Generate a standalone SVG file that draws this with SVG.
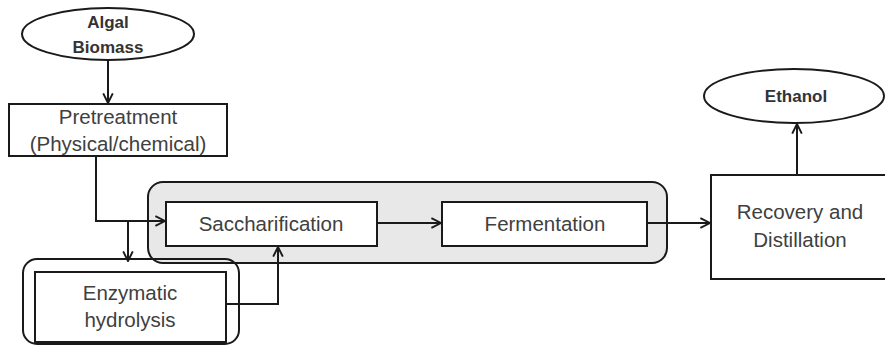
<svg xmlns="http://www.w3.org/2000/svg" width="885" height="345" viewBox="0 0 885 345">
  <style>
    .box { fill: #ffffff; stroke: #1a1a1a; stroke-width: 2; }
    .group { fill: #e8e8e8; stroke: #1a1a1a; stroke-width: 2; }
    .frame { fill: none; stroke: #1a1a1a; stroke-width: 2; }
    .oval { fill: #ffffff; stroke: #1a1a1a; stroke-width: 2; }
    .lbl { font-family: "Liberation Sans", Arial, sans-serif; font-size: 20.5px; fill: #404040; text-anchor: middle; }
    .bold { font-weight: bold; font-size: 17px; fill: #333333; }
    .edge { fill: none; stroke: #1a1a1a; stroke-width: 2; }
  </style>
  <defs>
    <marker id="arrow" viewBox="0 0 10 10" refX="9" refY="5" markerWidth="6" markerHeight="6" orient="auto" markerUnits="strokeWidth">
      <path d="M1,1 L9,5 L1,9" fill="none" stroke="#1a1a1a" stroke-width="1.6"/>
    </marker>
  </defs>

  <!-- shaded saccharification/fermentation stage -->
  <rect id="stage" class="group" x="148" y="182" width="519" height="81" rx="15"/>

  <g id="algal-biomass">
    <ellipse class="oval" cx="108" cy="34" rx="86" ry="26"/>
    <text class="lbl bold" x="108" y="28">Algal</text>
    <text class="lbl bold" x="108" y="53">Biomass</text>
  </g>

  <g id="pretreatment">
    <rect class="box" x="9" y="104" width="218" height="52"/>
    <text class="lbl" x="118" y="124">Pretreatment</text>
    <text class="lbl" x="118" y="151">(Physical/chemical)</text>
  </g>

  <g id="saccharification">
    <rect class="box" x="166" y="202" width="211" height="44"/>
    <text class="lbl" x="271" y="231">Saccharification</text>
  </g>

  <g id="fermentation">
    <rect class="box" x="442" y="202" width="205" height="44"/>
    <text class="lbl" x="545" y="231">Fermentation</text>
  </g>

  <g id="enzymatic-hydrolysis">
    <rect class="frame" x="23" y="259" width="216" height="85" rx="14"/>
    <rect class="box" x="35" y="272" width="191" height="70"/>
    <text class="lbl" x="130" y="300">Enzymatic</text>
    <text class="lbl" x="130" y="327">hydrolysis</text>
  </g>

  <g id="recovery">
    <rect class="box" x="711" y="175" width="180" height="104"/>
    <text class="lbl" x="800" y="219">Recovery and</text>
    <text class="lbl" x="800" y="247">Distillation</text>
  </g>

  <g id="ethanol">
    <ellipse class="oval" cx="794" cy="96" rx="90" ry="27"/>
    <text class="lbl bold" x="796" y="102">Ethanol</text>
  </g>

  <g id="connectors">
    <path class="edge" d="M108,60 L108,103" marker-end="url(#arrow)"/>
    <path class="edge" d="M96,156 L96,221 L165,221" marker-end="url(#arrow)"/>
    <path class="edge" d="M128,221 L128,261" marker-end="url(#arrow)"/>
    <path class="edge" d="M226,304 L278,304 L278,247" marker-end="url(#arrow)"/>
    <path class="edge" d="M377,223 L441,223" marker-end="url(#arrow)"/>
    <path class="edge" d="M647,223 L710,223" marker-end="url(#arrow)"/>
    <path class="edge" d="M797,175 L797,124" marker-end="url(#arrow)"/>
  </g>
</svg>
